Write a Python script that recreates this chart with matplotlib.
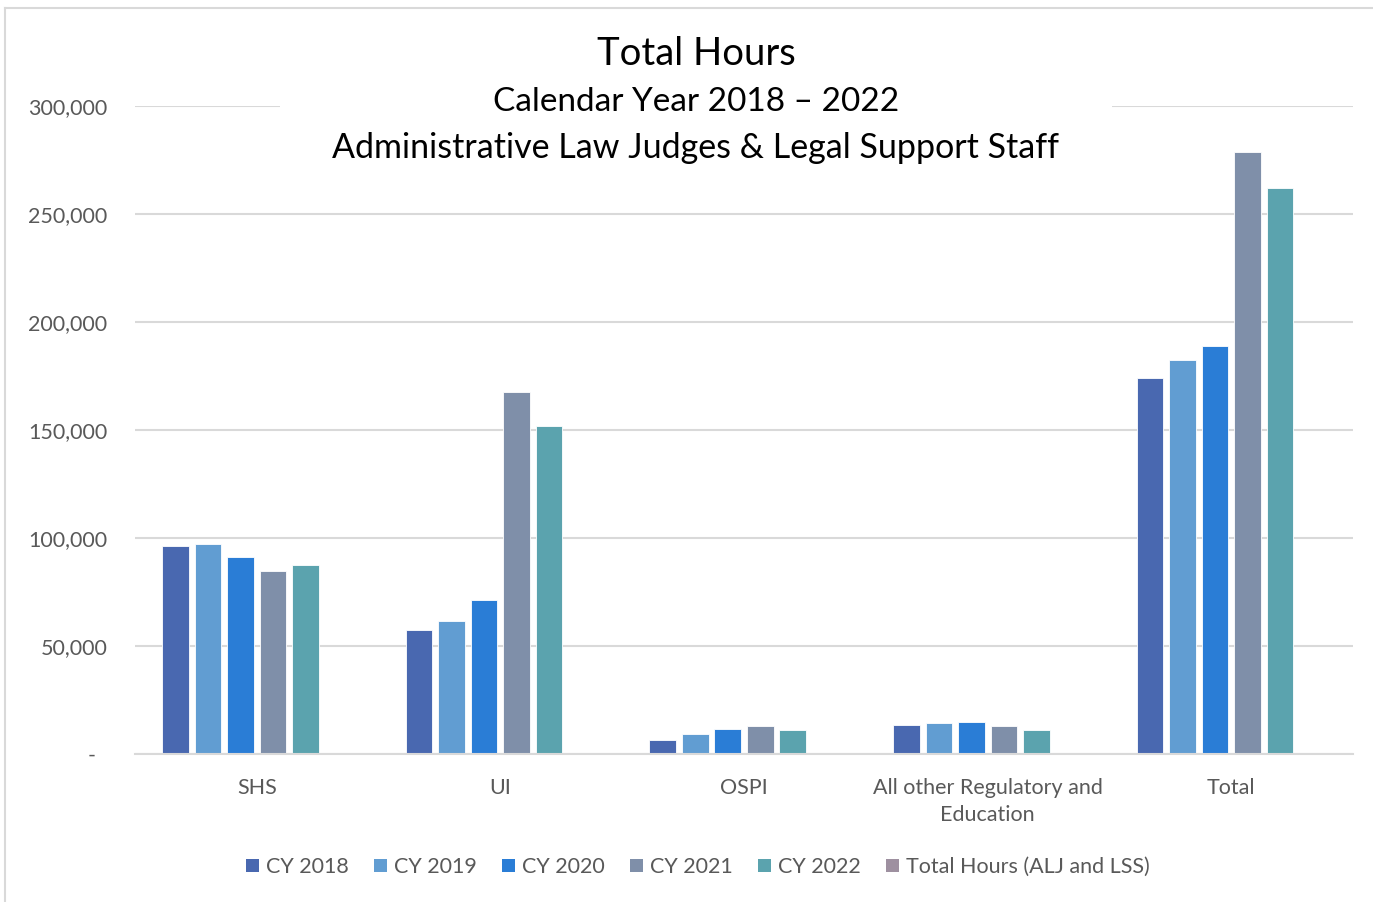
import matplotlib
matplotlib.use("Agg")
import matplotlib.pyplot as plt
from matplotlib.patches import Rectangle, Patch
from matplotlib.lines import Line2D
from matplotlib.ticker import FuncFormatter
import numpy as np

plt.rcParams['font.family'] = ['Lato', 'DejaVu Sans']

categories = ["SHS", "UI", "OSPI", "All other Regulatory and\nEducation", "Total"]
series_names = ["CY 2018", "CY 2019", "CY 2020", "CY 2021", "CY 2022",
                "Total Hours (ALJ and LSS)"]
cy2018 = [96300, 57400, 6500, 13600, 173900]
cy2019 = [97200, 61700, 9300, 14200, 182500]
cy2020 = [91200, 71300, 11400, 14700, 188700]
cy2021 = [84700, 167600, 13000, 13000, 278700]
cy2022 = [87500, 151900, 11000, 11100, 261900]
# the sixth series has no values in any category, it only keeps its slot
total_hours = [np.nan, np.nan, np.nan, np.nan, np.nan]
series_values = [cy2018, cy2019, cy2020, cy2021, cy2022, total_hours]
colors = ["#4968B0", "#619DD2", "#2A7DD6", "#7F8FA9", "#5BA3AE", "#9E90A0"]
yticks = [0, 50000, 100000, 150000, 200000, 250000, 300000]

W, H = 1373, 902
fig = plt.figure(figsize=(W / 100, H / 100), dpi=100)
ax = fig.add_axes([135 / W, 1 - 754 / H, (1353 - 135) / W, (754 - 106) / H])

text_color = "#595959"
grid_color = "#D9D9D9"

x = np.arange(len(categories))
n = len(series_names)
pitch = 0.1334
for i, (name, vals, c) in enumerate(zip(series_names, series_values, colors)):
    offs = (i - (n - 1) / 2) * pitch
    ax.bar(x + offs, vals, width=pitch * 0.82, color=c, edgecolor="white",
           linewidth=0.6, zorder=3, label=name)

ax.set_xlim(-0.5, len(categories) - 0.5)
ax.set_ylim(0, 300000)
ax.set_yticks(yticks)
ax.yaxis.set_major_formatter(
    FuncFormatter(lambda v, p: "-\u2002" if v == 0 else f"{int(v):,}"))
ax.set_xticks(x)
ax.set_xticklabels(categories, linespacing=1.45)
ax.tick_params(axis="both", length=0, labelsize=15.5, colors=text_color)
ax.tick_params(axis="y", pad=20)
ax.tick_params(axis="x", pad=17)
ax.grid(axis="y", color=grid_color, linewidth=1.5, zorder=0)
for s in ["top", "right", "left"]:
    ax.spines[s].set_visible(False)
ax.spines["bottom"].set_color(grid_color)
ax.spines["bottom"].set_linewidth(1.5)
ax.spines["bottom"].set_zorder(4)

# white panel behind the title block
fig.add_artist(Rectangle((280 / W, 1 - 172 / H), (1112 - 280) / W, 152 / H,
                         transform=fig.transFigure, facecolor="white",
                         edgecolor="none", zorder=5))
fig.text(696 / W, 1 - 54 / H, "Total Hours", ha="center", va="center",
         fontsize=27.5, color="black", zorder=6)
fig.text(696 / W, 1 - 102 / H, "Calendar Year 2018 \u2013 2022", ha="center",
         va="center", fontsize=24, color="black", zorder=6)
fig.text(696 / W, 1 - 148 / H, "Administrative Law Judges & Legal Support Staff",
         ha="center", va="center", fontsize=24.5, color="black", zorder=6)

# chart frame
fig.add_artist(Line2D([5 / W, 5 / W], [0, 1 - 8 / H], transform=fig.transFigure,
                      color=grid_color, linewidth=1.5))
fig.add_artist(Line2D([5 / W, 1], [1 - 8 / H, 1 - 8 / H], transform=fig.transFigure,
                      color=grid_color, linewidth=1.5))

handles = [Patch(facecolor=c, edgecolor="none") for c in colors]
fig.legend(handles, series_names, loc="center", bbox_to_anchor=(698 / W, 1 - 867 / H),
           ncol=6, frameon=False, fontsize=15.5, labelcolor=text_color,
           handlelength=0.6, handleheight=0.6, handletextpad=0.35,
           columnspacing=1.15)

fig.savefig("out.png", dpi=100)
